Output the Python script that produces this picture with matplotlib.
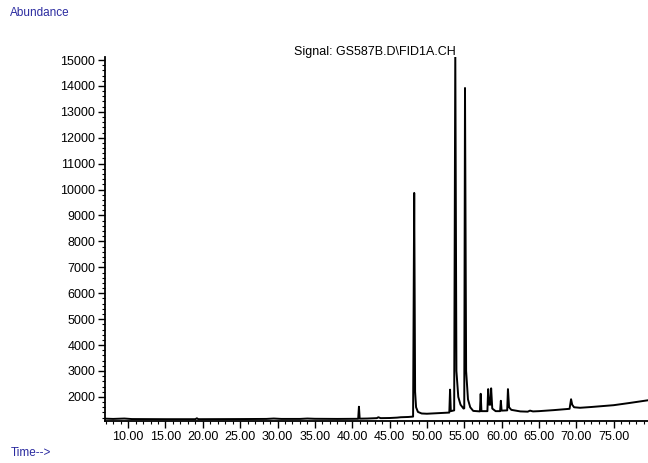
import numpy as np
import matplotlib
matplotlib.use("Agg")
import matplotlib.pyplot as plt
from matplotlib.ticker import MultipleLocator

plt.rcParams['font.family'] = ['Liberation Sans', 'DejaVu Sans']

# chromatogram trace (time in min, abundance)
time = [6.9, 8.0, 9.5, 10.5, 15.0, 19.0, 19.2, 19.4, 25.0, 28.5, 29.5, 30.5,
        33.0, 34.0, 35.0, 38.0, 40.8, 40.9, 41.0, 42.0, 43.3, 43.5, 43.8,
        45.0, 46.0, 46.5, 47.5, 48.15, 48.3, 48.42, 48.55, 48.8, 49.3, 50.0,
        52.0, 53.0, 53.1, 53.2, 53.65, 53.8, 53.95, 54.2, 54.5, 54.9, 55.0,
        55.1, 55.25, 55.5, 55.8, 56.2, 57.1, 57.2, 57.3, 58.1, 58.2, 58.35,
        58.5, 58.6, 58.75, 59.2, 59.8, 59.9, 60.0, 60.75, 60.85, 61.0, 61.3,
        62.5, 63.5, 63.8, 64.2, 65.0, 67.0, 69.1, 69.3, 69.45, 69.7, 70.5,
        72.0, 75.0, 77.0, 79.6]
abundance = [1160, 1150, 1165, 1145, 1140, 1140, 1175, 1140, 1145, 1150, 1165, 1150,
             1150, 1165, 1155, 1150, 1155, 1620, 1160, 1165, 1180, 1215, 1180,
             1185, 1200, 1215, 1225, 1240, 9870, 2200, 1600, 1420, 1360, 1350,
             1380, 1395, 2280, 1450, 1480, 15400, 3000, 2000, 1700, 1550, 1560,
             13920, 3000, 1900, 1600, 1460, 1440, 2120, 1450, 1450, 2300, 1700,
             1700, 2330, 1550, 1450, 1450, 1850, 1470, 1480, 2300, 1600, 1500,
             1440, 1430, 1470, 1440, 1450, 1490, 1540, 1910, 1700, 1600, 1580,
             1610, 1680, 1760, 1870]

y_ticks = np.arange(2000, 15001, 1000)
x_ticks = np.arange(10, 76, 5)

fig = plt.figure(figsize=(6.48, 4.63), dpi=100)
ax = fig.add_axes([0.162, 0.091, 0.838, 0.785])
ax.plot(time, abundance, color='black', lw=1.4)

ax.set_xlim(6.9, 79.6)
ax.set_ylim(1075, 15100)
ax.set_yticks(y_ticks)
ax.set_yticklabels([str(v) for v in y_ticks])
ax.set_xticks(x_ticks)
ax.set_xticklabels(['%.2f' % v for v in x_ticks])
ax.xaxis.set_minor_locator(MultipleLocator(1))
ax.yaxis.set_minor_locator(MultipleLocator(200))
for side in ['top', 'right']:
    ax.spines[side].set_visible(False)
for side in ['left', 'bottom']:
    ax.spines[side].set_linewidth(1.3)
ax.tick_params(which='major', direction='out', length=5, width=1, labelsize=9, pad=2)
ax.tick_params(which='minor', direction='out', length=2.5, width=0.8)

fig.text(0.578, 0.888, 'Signal: GS587B.D\\FID1A.CH', ha='center', va='center', fontsize=9)
fig.text(0.016, 0.972, 'Abundance', color='#2b2ba0', fontsize=8.5, ha='left', va='center')
fig.text(0.016, 0.021, 'Time-->', color='#2b2ba0', fontsize=8.5, ha='left', va='center')

fig.savefig('out.png', dpi=100)
